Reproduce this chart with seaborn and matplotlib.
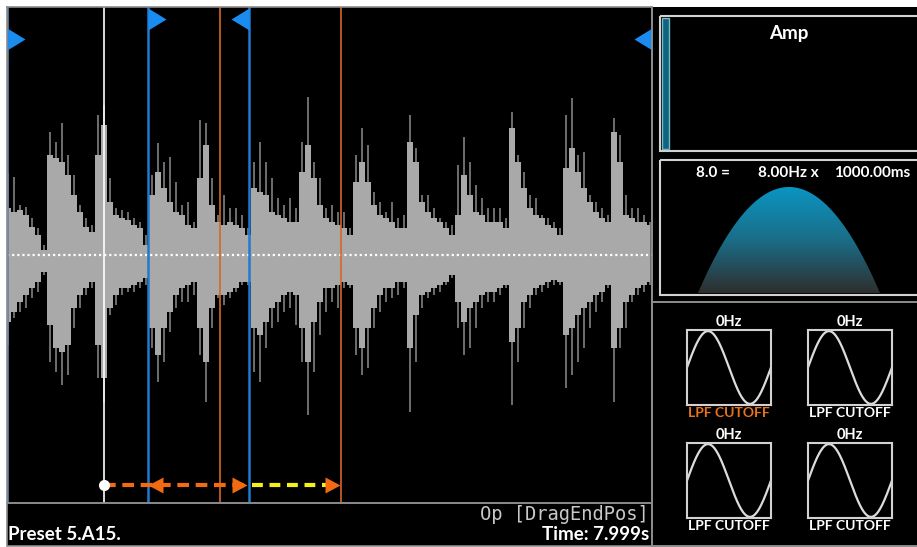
import numpy as np
import matplotlib
matplotlib.use("Agg")
import matplotlib.pyplot as plt
from matplotlib.patches import Rectangle, Polygon
from matplotlib.colors import LinearSegmentedColormap
import seaborn as sns

# waveform envelope, amplitude in screen pixels above / below the centre line
top_fill = [47, 43, 45, 40, 28, 20, 5, 100, 97, 93, 80, 60, 43, 28, 23, 100, 130, 53, 40, 37, 35, 30, 27, 10, 60, 83, 67,
            53, 43, 40, 30, 27, 77, 110, 50, 33, 30, 33, 30, 27, 20, 67, 63, 60, 43, 40, 37, 33, 33, 83, 110, 77, 50, 37,
            33, 30, 27, 20, 73, 93, 73, 50, 40, 37, 33, 27, 27, 113, 93, 53, 43, 37, 33, 27, 20, 40, 80, 60, 43, 40, 33,
            33, 33, 27, 127, 93, 67, 47, 40, 37, 30, 27, 20, 87, 107, 83, 67, 53, 43, 37, 33, 123, 93, 40, 37, 33, 33, 30]
top_peak = [82, 78, 50, 48, 37, 27, 10, 123, 113, 132, 100, 80, 50, 37, 30, 140, 150, 77, 47, 45, 43, 37, 33, 20, 80, 112, 93,
            98, 73, 50, 53, 33, 135, 132, 77, 40, 60, 47, 47, 40, 27, 93, 113, 93, 77, 57, 50, 57, 47, 113, 158, 93, 77, 47,
            50, 43, 43, 27, 100, 127, 110, 63, 53, 43, 53, 37, 40, 140, 107, 60, 60, 47, 37, 33, 30, 90, 118, 93, 70, 57, 47,
            47, 47, 37, 143, 100, 83, 60, 57, 40, 37, 33, 27, 140, 157, 100, 103, 60, 53, 47, 40, 137, 120, 60, 47, 47, 40, 33]
bottom_fill = [67, 57, 47, 40, 33, 27, 17, 70, 93, 97, 90, 53, 40, 33, 27, 90, 123, 53, 40, 33, 33, 30, 27, 23, 73, 100, 73,
               57, 40, 33, 30, 27, 73, 107, 53, 40, 40, 37, 33, 27, 27, 73, 80, 67, 53, 47, 40, 37, 40, 73, 107, 67, 47, 33,
               33, 30, 27, 30, 73, 93, 73, 53, 40, 33, 33, 27, 27, 93, 60, 40, 37, 33, 30, 27, 20, 47, 67, 53, 47, 40, 37,
               37, 33, 30, 87, 73, 47, 40, 33, 30, 27, 25, 27, 80, 73, 60, 53, 47, 40, 37, 30, 93, 73, 47, 40, 33, 30, 27]
bottom_peak = [90, 63, 57, 53, 43, 37, 20, 107, 117, 130, 120, 73, 53, 40, 33, 123, 147, 60, 50, 40, 37, 37, 33, 30, 93, 127, 107,
               77, 53, 47, 47, 40, 100, 147, 73, 43, 50, 43, 37, 30, 30, 117, 127, 93, 73, 67, 57, 53, 70, 107, 160, 117, 80, 57,
               47, 53, 33, 33, 100, 120, 113, 73, 57, 47, 43, 40, 33, 157, 107, 53, 43, 40, 37, 30, 23, 73, 100, 93, 73, 53, 47,
               47, 40, 33, 150, 107, 73, 53, 40, 37, 33, 30, 30, 133, 120, 107, 93, 73, 57, 47, 33, 147, 93, 73, 47, 40, 37, 30]

duration = 8.0          # seconds shown in the editor
playhead = 1.20
loop_start = 1.75
loop_end = 3.00
slice_marks = [2.64, 4.14]

preset_label = "Preset 5.A15."
op_label = "Op [DragEndPos]"
time_label = "Time: 7.999s"
amp_label = "Amp"
lfo_labels = ["8.0 =", "8.00Hz x", "1000.00ms"]
mod_freqs = ["0Hz", "0Hz", "0Hz", "0Hz"]
mod_targets = ["LPF CUTOFF", "LPF CUTOFF", "LPF CUTOFF", "LPF CUTOFF"]
mod_active = 0

sns.set_theme(style="dark")
plt.rcParams['font.family'] = ['Lato', 'DejaVu Sans']

W, H = 917, 547
fig = plt.figure(figsize=(W / 100, H / 100), dpi=100)
fig.patch.set_facecolor('white')


def px_axes(x, y, w, h):
    return fig.add_axes([x / W, 1 - (y + h) / H, w / W, h / H])


grey = '#8c8c8c'
box = '#d2d2d2'
bg = px_axes(0, 0, W, H)
bg.set_xlim(0, W)
bg.set_ylim(H, 0)
bg.axis('off')
bg.add_patch(Rectangle((7, 7), W - 7, 539, facecolor='black', edgecolor='none'))
bg.add_patch(Rectangle((7, 503), 645, 43, facecolor='none', edgecolor=grey, lw=1.2))
bg.plot([652, 652], [7, 546], color=grey, lw=1.4)
bg.plot([652, W], [302, 302], color=grey, lw=1.4)
bg.plot([652, W], [546, 546], color=grey, lw=1.4)

# status bar
bg.text(8, 535, preset_label, ha='left', va='center', color='white', fontsize=13.5, fontweight='bold')
bg.text(649, 535, time_label, ha='right', va='center', color='white', fontsize=13.5, fontweight='bold')
bg.text(649, 514, op_label, ha='right', va='center', color='#c8c8c8', fontsize=13.5, family='DejaVu Sans Mono')

# amp panel
bg.add_patch(Rectangle((660, 16), 270, 135, facecolor='none', edgecolor=box, lw=1.5))
bg.add_patch(Rectangle((662, 18), 7, 131, facecolor='#0d6580', edgecolor='#7fb4c4', lw=1))
bg.text(789, 33, amp_label, ha='center', va='center', color='white', fontsize=13.5, fontweight='bold')

# lfo panel
bg.add_patch(Rectangle((660, 160), 270, 135, facecolor='none', edgecolor=box, lw=1.5))
for xc, s in zip([713, 788, 872], lfo_labels):
    bg.text(xc, 173, s, ha='center', va='center', color='white', fontsize=11, fontweight='bold')
u = np.linspace(0, 1, 200)
hx = 698 + 182 * u
hy = 293 - 106 * 4 * u * (1 - u)
hump = Polygon(np.column_stack([hx, hy]), closed=True, facecolor='none', edgecolor='none')
bg.add_patch(hump)
cmap = LinearSegmentedColormap.from_list('lfo', ['#0b95c2', '#1a6d87', '#2e2e2e'])
grad = bg.imshow(np.linspace(0, 1, 256).reshape(-1, 1), cmap=cmap, aspect='auto',
                 extent=(698, 880, 293, 187), zorder=2)
grad.set_clip_path(hump)
bg.set_xlim(0, W)
bg.set_ylim(H, 0)

# modulation mini panels
mod_boxes = [(687, 330), (808, 330), (687, 443), (808, 443)]
for i, (bx, by) in enumerate(mod_boxes):
    a = px_axes(bx, by, 84, 75)
    a.set_facecolor('black')
    sns.lineplot(x=u, y=np.sin(2 * np.pi * u), ax=a, color='#dcdcdc', lw=1.6)
    a.set_xlim(0, 1)
    a.set_ylim(-1.03, 1.03)
    a.set_xticks([])
    a.set_yticks([])
    a.set_xlabel('')
    a.set_ylabel('')
    for sp in a.spines.values():
        sp.set_color(box)
        sp.set_linewidth(1.5)
        sp.set_visible(True)
    bg.text(bx + 42, by - 8, mod_freqs[i], ha='center', va='center', color='white', fontsize=10.5, fontweight='bold')
    bg.text(bx + 42, by + 83, mod_targets[i], ha='center', va='center',
            color='#e8731a' if i == mod_active else 'white', fontsize=10, fontweight='bold')

# waveform
ax = px_axes(7, 7, 645, 496)
ax.set_facecolor('none')
t = np.linspace(0.0124, 7.975, len(top_fill))
ax.vlines(t, 0, top_peak, color='#6e6e6e', lw=1.4, zorder=1)
ax.vlines(t, 0, -np.array(bottom_peak), color='#6e6e6e', lw=1.4, zorder=1)
ax.fill_between(t, -np.array(bottom_fill), top_fill, step='mid', color='#a9a9a9', lw=0, zorder=1.5)
ax.axhline(0, color='white', lw=1.6, ls=(0, (1, 1.3)), zorder=2)
ax.axvline(0.01, color='#5c86a8', lw=1.2)
ax.axvline(playhead, color='white', lw=1.2)
for m in slice_marks:
    ax.axvline(m, color='#d9642a', lw=1.2)
for m in [loop_start, loop_end]:
    ax.axvline(m, color='#1f7ad0', lw=1.8)

flag_r = [(0, -11), (0, 11), (18, 0), (0, -11)]
flag_l = [(0, -11), (0, 11), (-18, 0), (0, -11)]
ax.plot([loop_start], [236], marker=flag_r, ms=25.9, color='#1a8cf0', mew=0)
ax.plot([loop_end], [236], marker=flag_l, ms=25.9, color='#1a8cf0', mew=0)
ax.plot([0.0], [216], marker=flag_r, ms=25.9, color='#1a8cf0', mew=0, clip_on=False)
ax.plot([duration], [216], marker=flag_l, ms=25.9, color='#1a8cf0', mew=0, clip_on=False)

ay = -230
ax.plot([playhead, loop_end - 0.05], [ay, ay], color='#f26a12', lw=3, ls=(0, (2.8, 1.6)))
ax.plot([loop_end + 0.04, slice_marks[1] - 0.1], [ay, ay], color='#f5f01a', lw=3, ls=(0, (2.6, 1.6)))
head_l = [(0, 0), (15, -8), (15, 8), (0, 0)]
head_r = [(0, 0), (-15, -8), (-15, 8), (0, 0)]
ax.plot([loop_start], [ay], marker=head_l, ms=21.6, color='#f26a12', mew=0)
ax.plot([loop_end - 0.02], [ay], marker=head_r, ms=21.6, color='#f26a12', mew=0)
ax.plot([slice_marks[1] - 0.01], [ay], marker=head_r, ms=21.6, color='#f26a12', mew=0)
ax.plot([playhead], [ay], marker='o', ms=8, color='white', mew=0)

ax.set_xlim(0, duration)
ax.set_ylim(-248, 248)
ax.set_xticks([])
ax.set_yticks([])
for sp in ax.spines.values():
    sp.set_color(grey)
    sp.set_linewidth(1.2)
    sp.set_visible(True)

fig.savefig('out.png', dpi=100, facecolor=fig.get_facecolor())
